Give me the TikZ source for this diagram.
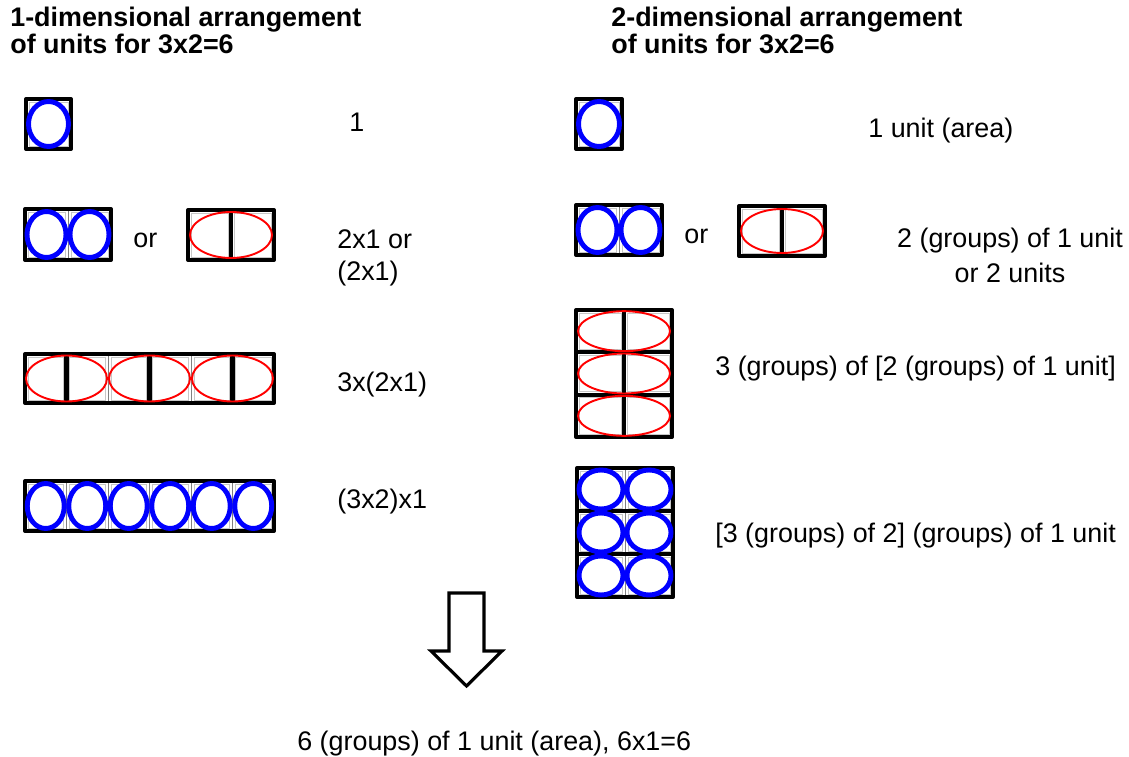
\documentclass[tikz,border=0pt]{standalone}
\usepackage{fontspec}
\setmainfont{Liberation Sans}
\tikzset{
  frame/.style={line width=2.3pt, line join=round},
  divider/.style={line width=2.3pt},
  thindiv/.style={line width=0.5pt, black!50},
  cellin/.style={line width=0.4pt, black!22},
  bluering/.style={line width=2.8pt, blue},
  redring/.style={line width=1.1pt, red},
  lbl/.style={anchor=base west, inner sep=0pt, font=\fontsize{15.3}{18}\selectfont},
  heading/.style={lbl, font=\fontsize{15.3}{18}\selectfont\bfseries}
}
\begin{document}
\begin{tikzpicture}[x=0.02cm, y=-0.02cm]
\useasboundingbox (0,0) rectangle (1129,757);

% headings
\node[heading] (h1a) at (10,27) {1-dimensional arrangement};
\node[heading] (h1b) at (10,54) {of units for 3x2=6};
\node[heading] (h2a) at (611,27) {2-dimensional arrangement};
\node[heading] (h2b) at (611,54) {of units for 3x2=6};

% left, one unit
\draw[cellin] (29,102) rectangle (68,146);
\draw[frame] (26,99) rectangle (71,149);
\draw[bluering] (48.5,124) ellipse (20 and 22.5);
\node[lbl] (one) at (349,132) {1};

% left, two units
\foreach \i in {0,1}
  \draw[cellin] ({28+43*\i},212) rectangle ({65+43*\i},257);
\draw[thindiv] (68,209) -- (68,260);
\draw[frame] (25,209) rectangle (111,260);
\foreach \i in {0,1}
  \draw[bluering] ({46.5+43*\i},234.5) ellipse (19.5 and 23);
\node[lbl] (orA) at (133,247) {or};
\foreach \i in {0,1}
  \draw[cellin] ({191+43*\i},213) rectangle ({228+43*\i},257);
\draw[frame] (188,210) rectangle (274,260);
\draw[divider] (231,210) -- (231,260);
\draw[redring] (231,235) ellipse (41 and 23);
\node[lbl] (twoA) at (337,248) {2x1 or};
\node[lbl] (twoB) at (337,280) {(2x1)};

% left, three pairs
\foreach \i in {0,...,5}
  \draw[cellin] ({28+41.5*\i},357) rectangle ({63.5+41.5*\i},400);
\foreach \x in {108,191}
  \draw[thindiv] (\x,354) -- (\x,403);
\draw[frame] (25,354) rectangle (274,403);
\foreach \x in {66.5,149.5,232.5} {
  \draw[divider] (\x,354) -- (\x,403);
  \draw[redring] (\x,378.5) ellipse (40.5 and 23);
}
\node[lbl] (threeA) at (337,391) {3x(2x1)};

% left, six units
\foreach \i in {0,...,5}
  \draw[cellin] ({28+41.5*\i},484) rectangle ({63.5+41.5*\i},528);
\foreach \i in {1,...,5}
  \draw[thindiv] ({25+41.5*\i},481) -- ({25+41.5*\i},531);
\draw[frame] (25,481) rectangle (274,531);
\foreach \i in {0,...,5}
  \draw[bluering] ({45.75+41.5*\i},506) ellipse (18.5 and 22.5);
\node[lbl] (sixA) at (337,508) {(3x2)x1};

% right, one unit
\draw[cellin] (579,102) rectangle (619,146);
\draw[frame] (576,99) rectangle (622,149);
\draw[bluering] (599,124) ellipse (20.5 and 22.5);
\node[lbl] (unit) at (868,137) {1 unit (area)};

% right, two units
\foreach \i in {0,1}
  \draw[cellin] ({579+43*\i},208) rectangle ({616+43*\i},252);
\draw[thindiv] (619,205) -- (619,255);
\draw[frame] (576,205) rectangle (662,255);
\foreach \i in {0,1}
  \draw[bluering] ({597.5+43*\i},230) ellipse (19.5 and 22.5);
\node[lbl] (orB) at (684,243) {or};
\foreach \i in {0,1}
  \draw[cellin] ({742+43*\i},209) rectangle ({779+43*\i},253);
\draw[frame] (739,206) rectangle (825,256);
\draw[divider] (782,206) -- (782,256);
\draw[redring] (782,231) ellipse (41 and 22);
\node[lbl, anchor=base] (twoC) at (1010,247) {2 (groups) of 1 unit};
\node[lbl, anchor=base] (twoD) at (1010,282) {or 2 units};

% right, three rows of pairs
\foreach \c in {0,1}
  \foreach \r in {0,1,2}
    \draw[cellin] ({579+48*\c},{313+42.33*\r}) rectangle ({621+48*\c},{349.33+42.33*\r});
\draw[frame] (576,310) rectangle (672,437);
\draw[divider] (624,310) -- (624,437);
\foreach \y in {352.33,394.67}
  \draw[divider] (576,\y) -- (672,\y);
\foreach \r in {0,1,2}
  \draw[redring] (624,{331.17+42.33*\r}) ellipse (46 and 20);
\node[lbl] (threeB) at (715,375) {3 (groups) of [2 (groups) of 1 unit]};

% right, grid of six units
\foreach \c in {0,1}
  \foreach \r in {0,1,2}
    \draw[cellin] ({580+48*\c},{471+43*\r}) rectangle ({622+48*\c},{508+43*\r});
\draw[thindiv] (625,468) -- (625,597);
\foreach \y in {511,554}
  \draw[divider] (577,\y) -- (673,\y);
\draw[frame] (577,468) rectangle (673,597);
\foreach \c in {0,1}
  \foreach \r in {0,1,2}
    \draw[bluering] ({601+48*\c},{489.5+43*\r}) ellipse (22 and 19.5);
\node[lbl] (sixB) at (715,542) {[3 (groups) of 2] (groups) of 1 unit};

% block arrow
\draw[line width=1.8pt, line join=miter] (449,593) -- (484,593) -- (484,651) -- (502,651)
  -- (466.5,686) -- (431,651) -- (449,651) -- cycle;
\node[lbl] (result) at (297,750) {6 (groups) of 1 unit (area), 6x1=6};
\end{tikzpicture}
\end{document}
